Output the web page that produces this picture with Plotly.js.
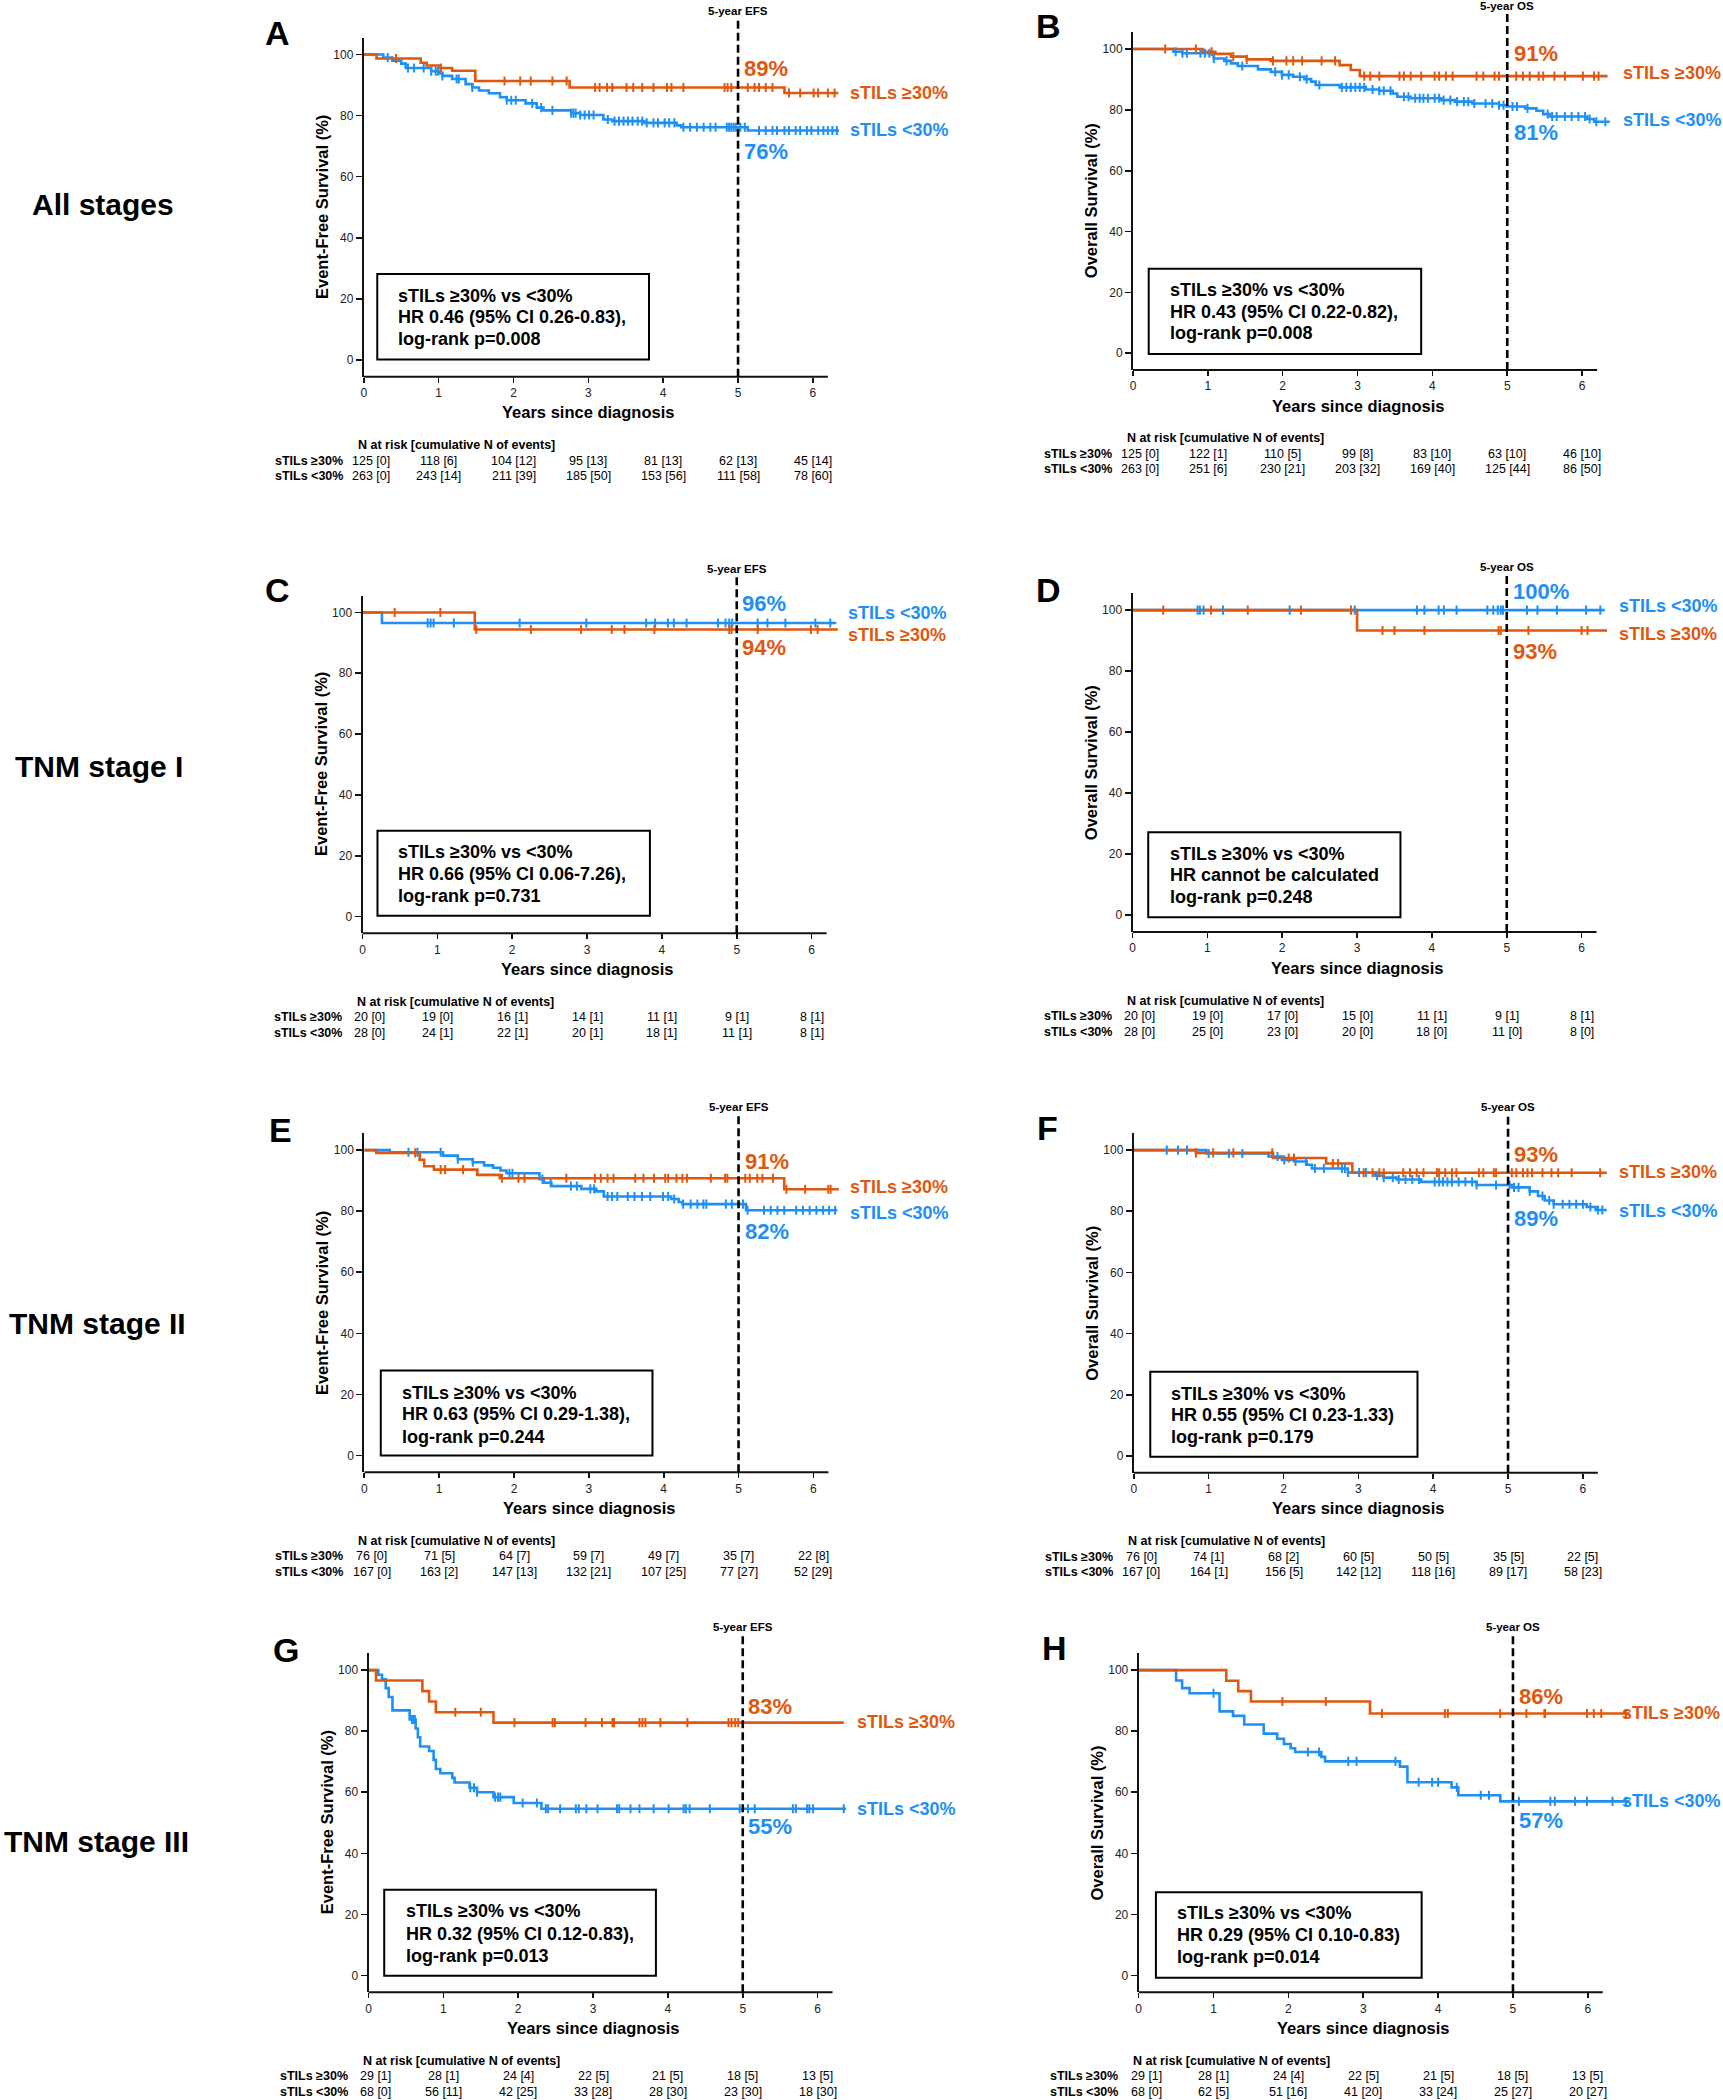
<!DOCTYPE html>
<html><head><meta charset="utf-8">
<script src="https://cdn.plot.ly/plotly-3.0.1.min.js"></script>
<style>body{margin:0;background:#fff}#chart{width:1723px;height:2100px}</style>
</head><body><div id="chart"></div>
<script>
// ---------------- DATA ----------------
// Panel A: EFS, all stages
const A_hi_time = [0, 0.17, 0.76, 0.84, 1.02, 1.18, 1.49, 2.75, 5.62, 6.34];
const A_hi_surv = [100, 98.7, 97.3, 96.4, 95.6, 94.7, 91.3, 89.2, 87.4, 87.4];
const A_hi_cens = [0.43, 1.03, 1.88, 2.09, 2.23, 2.52, 2.71, 3.09, 3.15, 3.25, 3.32, 3.51, 3.6, 3.72, 3.87, 4.05, 4.11, 4.27, 4.82, 4.86, 4.91, 5.13, 5.22, 5.28, 5.37, 5.46, 5.68, 5.83, 6.01, 6.07, 6.2, 6.29];
const A_lo_time = [0, 0.26, 0.38, 0.5, 0.56, 0.9, 1.0, 1.05, 1.18, 1.36, 1.45, 1.54, 1.67, 1.82, 1.91, 2.16, 2.31, 2.4, 2.77, 2.89, 3.2, 3.32, 3.75, 4.18, 4.24, 5.13, 6.35];
const A_lo_surv = [100, 99, 98, 97, 95.6, 94.5, 93.8, 93, 92, 90.3, 89.2, 88.2, 87.3, 86, 85, 84, 82.6, 81.7, 80.8, 80.2, 78.7, 78.2, 77.6, 76.8, 76.2, 75.1, 75.1];
const A_lo_cens = [0.32, 0.59, 0.67, 0.8, 0.9, 0.96, 0.99, 1.05, 1.24, 1.27, 1.45, 1.91, 1.97, 2.03, 2.25, 2.37, 2.52, 2.77, 2.8, 2.83, 2.89, 2.95, 3.01, 3.07, 3.26, 3.35, 3.41, 3.47, 3.53, 3.59, 3.66, 3.72, 3.78, 3.87, 3.93, 4.02, 4.08, 4.15, 4.27, 4.36, 4.45, 4.54, 4.63, 4.7, 4.85, 4.88, 4.91, 4.94, 4.97, 5.03, 5.09, 5.28, 5.37, 5.46, 5.52, 5.62, 5.68, 5.77, 5.83, 5.92, 5.98, 6.07, 6.14, 6.2, 6.26, 6.32];
const A_risk_hi = ["125 [0]", "118 [6]", "104 [12]", "95 [13]", "81 [13]", "62 [13]", "45 [14]"];
const A_risk_lo = ["263 [0]", "243 [14]", "211 [39]", "185 [50]", "153 [56]", "111 [58]", "78 [60]"];
const A_stats = ["sTILs ≥30% vs &lt;30%", "HR 0.46 (95% CI 0.26-0.83),", "log-rank p=0.008"];
const A_pct = ["89%", "76%"];

// Panel B: OS, all stages
const B_hi_time = [0, 0.93, 1.1, 1.31, 1.52, 1.84, 2.76, 2.91, 3.03, 6.34];
const B_hi_surv = [100, 99.1, 98.4, 97.5, 96.6, 96.1, 94.7, 93.1, 91.1, 91.1];
const B_hi_cens = [0.43, 0.84, 1.05, 1.34, 1.52, 1.87, 2.05, 2.14, 2.26, 2.52, 2.7, 3.09, 3.17, 3.29, 3.56, 3.62, 3.71, 3.85, 4.03, 4.09, 4.18, 4.27, 4.59, 4.68, 4.83, 4.89, 5.12, 5.21, 5.3, 5.42, 5.48, 5.63, 5.77, 6.01, 6.16, 6.22];
const B_lo_time = [0, 0.54, 0.66, 1.08, 1.22, 1.31, 1.4, 1.67, 1.84, 1.99, 2.14, 2.29, 2.38, 2.44, 2.76, 3.11, 3.29, 3.47, 3.53, 3.71, 4.12, 4.3, 4.53, 4.89, 4.99, 5.24, 5.39, 5.48, 5.57, 6.07, 6.16, 6.37];
const B_lo_surv = [100, 99.1, 98.6, 96.9, 96.1, 95.3, 94.4, 93.3, 92.5, 91.5, 90.9, 90.1, 89.3, 88.2, 87.4, 86.7, 86.3, 85.4, 84.3, 83.8, 83.2, 82.7, 82.1, 81.5, 81.1, 80.5, 79.7, 78.6, 77.8, 77, 76.1, 76.1];
const B_lo_cens = [0.57, 0.66, 0.72, 0.9, 0.96, 1.02, 1.08, 1.25, 1.46, 1.9, 1.99, 2.08, 2.23, 2.32, 2.49, 2.79, 2.85, 2.91, 2.97, 3.03, 3.09, 3.2, 3.29, 3.35, 3.44, 3.62, 3.68, 3.77, 3.83, 3.88, 3.94, 4.03, 4.09, 4.15, 4.24, 4.33, 4.42, 4.48, 4.56, 4.71, 4.8, 4.89, 4.95, 5.07, 5.13, 5.27, 5.54, 5.6, 5.66, 5.77, 5.86, 5.95, 6.04, 6.1, 6.19, 6.31];
const B_risk_hi = ["125 [0]", "122 [1]", "110 [5]", "99 [8]", "83 [10]", "63 [10]", "46 [10]"];
const B_risk_lo = ["263 [0]", "251 [6]", "230 [21]", "203 [32]", "169 [40]", "125 [44]", "86 [50]"];
const B_stats = ["sTILs ≥30% vs &lt;30%", "HR 0.43 (95% CI 0.22-0.82),", "log-rank p=0.008"];
const B_pct = ["91%", "81%"];

// Panel C: EFS, stage I
const C_hi_time = [0, 1.5, 6.35];
const C_hi_surv = [100, 94.4, 94.4];
const C_hi_cens = [0.43, 1.04, 1.52, 2.25, 2.92, 3.33, 3.5, 3.9, 4.9, 4.93, 5.28, 5.99, 6.08];
const C_lo_time = [0, 0.26, 6.33];
const C_lo_surv = [100, 96.5, 96.5];
const C_lo_cens = [0.87, 0.91, 0.95, 1.22, 2.1, 2.99, 3.79, 3.91, 4.08, 4.16, 4.33, 4.75, 4.85, 4.9, 4.94, 5.28, 5.41, 5.65, 6.05, 6.25];
const C_risk_hi = ["20 [0]", "19 [0]", "16 [1]", "14 [1]", "11 [1]", "9 [1]", "8 [1]"];
const C_risk_lo = ["28 [0]", "24 [1]", "22 [1]", "20 [1]", "18 [1]", "11 [1]", "8 [1]"];
const C_stats = ["sTILs ≥30% vs &lt;30%", "HR 0.66 (95% CI 0.06-7.26),", "log-rank p=0.731"];
const C_pct = ["94%", "96%"];

// Panel D: OS, stage I
const D_hi_time = [0, 3.0, 6.34];
const D_hi_surv = [100, 93.3, 93.3];
const D_hi_cens = [0.41, 1.05, 1.54, 2.25, 2.92, 3.34, 3.5, 3.9, 4.89, 4.92, 5.29, 6.0, 6.08];
const D_lo_time = [0, 6.31];
const D_lo_surv = [100, 100];
const D_lo_cens = [0.87, 0.9, 0.95, 1.21, 2.1, 2.97, 3.8, 3.9, 4.09, 4.16, 4.33, 4.74, 4.82, 4.88, 4.92, 4.95, 5.27, 5.41, 5.67, 6.06, 6.25];
const D_risk_hi = ["20 [0]", "19 [0]", "17 [0]", "15 [0]", "11 [1]", "9 [1]", "8 [1]"];
const D_risk_lo = ["28 [0]", "25 [0]", "23 [0]", "20 [0]", "18 [0]", "11 [0]", "8 [0]"];
const D_stats = ["sTILs ≥30% vs &lt;30%", "HR cannot be calculated", "log-rank p=0.248"];
const D_pct = ["93%", "100%"];

// Panel E: EFS, stage II
const E_hi_time = [0, 0.16, 0.74, 0.8, 0.93, 1.51, 1.81, 5.61, 6.34];
const E_hi_surv = [100, 99.1, 96.8, 94.7, 93.6, 91.9, 90.8, 87.2, 87.2];
const E_hi_cens = [0.68, 1.02, 1.08, 1.32, 1.84, 2.06, 2.14, 2.7, 3.08, 3.16, 3.25, 3.33, 3.62, 3.73, 3.87, 4.02, 4.06, 4.17, 4.25, 4.31, 4.63, 4.82, 4.85, 5.09, 5.15, 5.25, 5.32, 5.46, 5.64, 5.89, 6.2, 6.23];
const E_lo_time = [0, 0.34, 1.05, 1.25, 1.45, 1.6, 1.72, 1.82, 1.9, 2.34, 2.4, 2.5, 2.9, 3.1, 3.2, 4.1, 4.2, 4.25, 5.1, 6.32];
const E_lo_surv = [100, 99.3, 98.2, 97, 96, 95, 94.2, 93.3, 92.4, 90.5, 89.3, 88.2, 87.3, 86.5, 84.8, 84, 83, 82.3, 80.3, 80.3];
const E_lo_cens = [0.59, 0.71, 1.02, 1.25, 1.45, 1.94, 1.98, 2.38, 2.49, 2.76, 2.84, 3.02, 3.07, 3.25, 3.31, 3.38, 3.52, 3.61, 3.71, 3.82, 3.99, 4.06, 4.14, 4.26, 4.36, 4.45, 4.53, 4.57, 4.83, 4.91, 5.06, 5.12, 5.34, 5.43, 5.52, 5.61, 5.77, 5.86, 5.95, 6.04, 6.13, 6.21, 6.29];
const E_risk_hi = ["76 [0]", "71 [5]", "64 [7]", "59 [7]", "49 [7]", "35 [7]", "22 [8]"];
const E_risk_lo = ["167 [0]", "163 [2]", "147 [13]", "132 [21]", "107 [25]", "77 [27]", "52 [29]"];
const E_stats = ["sTILs ≥30% vs &lt;30%", "HR 0.63 (95% CI 0.29-1.38),", "log-rank p=0.244"];
const E_pct = ["91%", "82%"];

// Panel F: OS, stage II
const F_hi_time = [0, 0.83, 1.86, 2.57, 2.92, 6.32];
const F_hi_surv = [100, 99.1, 97.4, 95.6, 92.6, 92.6];
const F_hi_cens = [0.83, 1.06, 1.33, 1.85, 2.07, 2.14, 2.66, 2.73, 3.07, 3.19, 3.28, 3.34, 3.6, 3.69, 3.78, 3.87, 4.05, 4.08, 4.16, 4.25, 4.31, 4.61, 4.67, 4.81, 4.84, 5.05, 5.11, 5.2, 5.26, 5.32, 5.46, 5.58, 5.67, 5.85, 6.23];
const F_lo_time = [0, 0.97, 1.8, 1.98, 2.16, 2.31, 2.38, 2.86, 3.22, 3.34, 3.51, 3.84, 4.58, 5.05, 5.29, 5.4, 5.49, 5.61, 6.05, 6.17, 6.32];
const F_lo_surv = [100, 98.9, 97.9, 96.8, 96.3, 95.2, 94, 92.7, 91.6, 91, 90.4, 89.6, 88.6, 87.8, 86.5, 85, 83.5, 82.3, 81.4, 80.4, 80.4];
const F_lo_cens = [0.44, 0.59, 0.71, 1.0, 1.27, 1.45, 1.92, 2.01, 2.16, 2.3, 2.42, 2.54, 2.78, 2.82, 2.86, 3.01, 3.1, 3.25, 3.34, 3.46, 3.54, 3.63, 3.72, 3.81, 4.02, 4.08, 4.13, 4.19, 4.25, 4.34, 4.43, 4.52, 4.58, 4.84, 5.02, 5.08, 5.14, 5.29, 5.46, 5.55, 5.61, 5.73, 5.82, 5.91, 6.0, 6.1, 6.2, 6.26];
const F_risk_hi = ["76 [0]", "74 [1]", "68 [2]", "60 [5]", "50 [5]", "35 [5]", "22 [5]"];
const F_risk_lo = ["167 [0]", "164 [1]", "156 [5]", "142 [12]", "118 [16]", "89 [17]", "58 [23]"];
const F_stats = ["sTILs ≥30% vs &lt;30%", "HR 0.55 (95% CI 0.23-1.33)", "log-rank p=0.179"];
const F_pct = ["93%", "89%"];

// Panel G: EFS, stage III
const G_hi_time = [0, 0.1, 0.72, 0.81, 0.9, 1.67, 6.35];
const G_hi_surv = [100, 96.6, 93.1, 89.7, 86.2, 82.8, 82.8];
const G_hi_cens = [1.16, 1.5, 1.95, 2.46, 2.49, 2.9, 3.12, 3.26, 3.28, 3.62, 3.66, 3.7, 3.9, 4.26, 4.81, 4.85, 4.9, 4.94];
const G_lo_time = [0, 0.13, 0.18, 0.23, 0.27, 0.32, 0.55, 0.63, 0.66, 0.69, 0.81, 0.87, 0.9, 0.96, 1.12, 1.15, 1.35, 1.45, 1.67, 1.94, 2.31, 6.38];
const G_lo_surv = [100, 98.5, 97, 94.1, 91.2, 86.8, 83.8, 80.9, 78.0, 75.0, 73.5, 70.6, 67.6, 66.2, 64.7, 63.2, 61.5, 60, 58.4, 56.5, 54.6, 54.6];
const G_lo_cens = [0.58, 0.6, 0.62, 1.36, 1.41, 1.45, 1.69, 1.73, 1.76, 2.06, 2.25, 2.37, 2.4, 2.56, 2.77, 2.81, 2.91, 3.06, 3.32, 3.35, 3.5, 3.62, 3.81, 4.01, 4.21, 4.24, 4.29, 4.56, 4.96, 5.07, 5.16, 5.67, 5.71, 5.86, 5.89, 5.94, 6.35];
const G_risk_hi = ["29 [1]", "28 [1]", "24 [4]", "22 [5]", "21 [5]", "18 [5]", "13 [5]"];
const G_risk_lo = ["68 [0]", "56 [11]", "42 [25]", "33 [28]", "28 [30]", "23 [30]", "18 [30]"];
const G_stats = ["sTILs ≥30% vs &lt;30%", "HR 0.32 (95% CI 0.12-0.83),", "log-rank p=0.013"];
const G_pct = ["83%", "55%"];

// Panel H: OS, stage III
const H_hi_time = [0, 1.17, 1.33, 1.5, 3.09, 6.56];
const H_hi_surv = [100, 96.5, 93.1, 89.7, 85.8, 85.8];
const H_hi_cens = [1.92, 2.5, 3.25, 4.09, 4.13, 4.83, 5.18, 5.42, 5.43, 5.99, 6.08, 6.18, 6.51];
const H_lo_time = [0, 0.5, 0.58, 0.68, 1.08, 1.26, 1.41, 1.67, 1.85, 1.94, 2.03, 2.09, 2.44, 2.49, 3.49, 3.59, 4.18, 4.27, 4.83, 6.56];
const H_lo_surv = [100, 96.6, 94.1, 92.4, 86.5, 85, 82.2, 79.2, 77.5, 75.8, 74.4, 73.2, 71.6, 70.1, 68.4, 63.3, 61.6, 59, 57, 57];
const H_lo_cens = [1.0, 2.26, 2.41, 2.8, 2.91, 3.43, 3.74, 3.92, 4.0, 4.25, 4.57, 4.68, 5.08, 5.5, 5.56, 5.83, 5.99, 6.33, 6.51];
const H_risk_hi = ["29 [1]", "28 [1]", "24 [4]", "22 [5]", "21 [5]", "18 [5]", "13 [5]"];
const H_risk_lo = ["68 [0]", "62 [5]", "51 [16]", "41 [20]", "33 [24]", "25 [27]", "20 [27]"];
const H_stats = ["sTILs ≥30% vs &lt;30%", "HR 0.29 (95% CI 0.10-0.83)", "log-rank p=0.014"];
const H_pct = ["86%", "57%"];

const yearTicks = [0, 1, 2, 3, 4, 5, 6];
const survTicks = [0, 20, 40, 60, 80, 100];
const groupLabels = ["sTILs ≥30%", "sTILs &lt;30%"];
const stageLabels = ["All stages", "TNM stage I", "TNM stage II", "TNM stage III"];
const riskHeader = "N at risk [cumulative N of events]";

// ---------------- LAYOUT / STYLE ----------------
const W = 1723, H = 2100;
const ORANGE = '#E0580E', BLUE = '#1E90F5';
const FONT = "'Liberation Sans', Arial, Helvetica, sans-serif";
const PPY = 74.85, XMAX = 6.6, YMIN = -5.5, YMAX = 105.5;

const series = {
  A: {hiT: A_hi_time, hiS: A_hi_surv, hiC: A_hi_cens, loT: A_lo_time, loS: A_lo_surv, loC: A_lo_cens, rh: A_risk_hi, rl: A_risk_lo, st: A_stats, pct: A_pct},
  B: {hiT: B_hi_time, hiS: B_hi_surv, hiC: B_hi_cens, loT: B_lo_time, loS: B_lo_surv, loC: B_lo_cens, rh: B_risk_hi, rl: B_risk_lo, st: B_stats, pct: B_pct},
  C: {hiT: C_hi_time, hiS: C_hi_surv, hiC: C_hi_cens, loT: C_lo_time, loS: C_lo_surv, loC: C_lo_cens, rh: C_risk_hi, rl: C_risk_lo, st: C_stats, pct: C_pct},
  D: {hiT: D_hi_time, hiS: D_hi_surv, hiC: D_hi_cens, loT: D_lo_time, loS: D_lo_surv, loC: D_lo_cens, rh: D_risk_hi, rl: D_risk_lo, st: D_stats, pct: D_pct},
  E: {hiT: E_hi_time, hiS: E_hi_surv, hiC: E_hi_cens, loT: E_lo_time, loS: E_lo_surv, loC: E_lo_cens, rh: E_risk_hi, rl: E_risk_lo, st: E_stats, pct: E_pct},
  F: {hiT: F_hi_time, hiS: F_hi_surv, hiC: F_hi_cens, loT: F_lo_time, loS: F_lo_surv, loC: F_lo_cens, rh: F_risk_hi, rl: F_risk_lo, st: F_stats, pct: F_pct},
  G: {hiT: G_hi_time, hiS: G_hi_surv, hiC: G_hi_cens, loT: G_lo_time, loS: G_lo_surv, loC: G_lo_cens, rh: G_risk_hi, rl: G_risk_lo, st: G_stats, pct: G_pct},
  H: {hiT: H_hi_time, hiS: H_hi_surv, hiC: H_hi_cens, loT: H_lo_time, loS: H_lo_surv, loC: H_lo_cens, rh: H_risk_hi, rl: H_risk_lo, st: H_stats, pct: H_pct}
};

// placement (pixels / data positions)
const geo = {
  A: {x0: 363.8, top: 37.7, bot: 376.7, letter: [277.5, 33], os: false, pctX: 5.05, pctHi: 95.4, pctLo: 68.1, labX: 6.47, labHi: 87.4, labLo: 75.2, box: [0.18, 3.81, 0.1, 28.1], tx: 0.43, ty: [21, 13.9, 6.7]},
  B: {x0: 1133.0, top: 32.3, bot: 370.0, letter: [1048.6, 26], os: true, pctX: 5.06, pctHi: 98.6, pctLo: 72.5, labX: 6.52, labHi: 92.2, labLo: 76.7, box: [0.21, 3.85, -0.2, 27.8], tx: 0.47, ty: [20.8, 13.5, 6.6]},
  C: {x0: 362.5, top: 595.7, bot: 933.3, letter: [277.5, 590], os: false, pctX: 5.04, pctHi: 88.4, pctLo: 103.1, labX: 6.46, labHi: 92.5, labLo: 99.9, box: [0.2, 3.84, 0.3, 28.2], tx: 0.45, ty: [21.2, 14.1, 6.7]},
  D: {x0: 1132.5, top: 593.3, bot: 932.0, letter: [1048.6, 590], os: true, pctX: 5.06, pctHi: 86.5, pctLo: 101.2, pctLoBottom: true, labX: 6.47, labHi: 92.2, labLo: 101.4, box: [0.21, 3.58, -0.7, 27.2], tx: 0.47, ty: [20.2, 13.1, 5.9]},
  E: {x0: 364.3, top: 1133.3, bot: 1472.3, letter: [280, 1130], os: false, pctX: 5.06, pctHi: 96.3, pctLo: 73.4, labX: 6.46, labHi: 87.9, labLo: 79.4, box: [0.22, 3.85, 0, 27.8], tx: 0.48, ty: [20.6, 13.6, 6.2]},
  F: {x0: 1133.8, top: 1133.3, bot: 1472.7, letter: [1047.7, 1128], os: true, pctX: 5.05, pctHi: 98.5, pctLo: 77.7, labX: 6.46, labHi: 92.7, labLo: 80.2, box: [0.22, 3.79, -0.3, 27.5], tx: 0.47, ty: [20.4, 13.3, 6.2]},
  G: {x0: 368.5, top: 1653.3, bot: 1992.3, letter: [285.8, 1650], os: false, pctX: 5.05, pctHi: 88.1, pctLo: 48.8, labX: 6.5, labHi: 83.0, labLo: 54.4, box: [0.21, 3.84, -0.1, 28.1], tx: 0.47, ty: [21, 13.6, 6.4]},
  H: {x0: 1138.7, top: 1653.3, bot: 1992.3, letter: [1054.3, 1648], os: true, pctX: 5.05, pctHi: 91.2, pctLo: 50.9, labX: 6.43, labHi: 86.1, labLo: 57.3, box: [0.23, 3.78, -0.7, 27.3], tx: 0.48, ty: [20.4, 13.3, 6.0]}
};
const stagePos = [[103.3, 205], [99, 766], [97.5, 1323], [96, 1841]];

const px = v => v / W;
const py = v => 1 - v / H;

function survAt(t, s, x) {
  let v = s[0];
  for (let i = 0; i < t.length; i++) { if (t[i] <= x) v = s[i]; else break; }
  return v;
}

const data = [];
const layout = {
  width: W, height: H,
  margin: {l: 0, r: 0, t: 0, b: 0},
  paper_bgcolor: '#fff', plot_bgcolor: 'rgba(0,0,0,0)',
  showlegend: false,
  font: {family: FONT, color: '#000'},
  annotations: [], shapes: []
};

const ids = ['A', 'B', 'C', 'D', 'E', 'F', 'G', 'H'];
ids.forEach((id, k) => {
  const n = k + 1;
  const xa = n === 1 ? 'x' : 'x' + n;
  const ya = n === 1 ? 'y' : 'y' + n;
  const xKey = n === 1 ? 'xaxis' : 'xaxis' + n;
  const yKey = n === 1 ? 'yaxis' : 'yaxis' + n;
  const s = series[id], g = geo[id];

  layout[xKey] = {
    domain: [px(g.x0), px(g.x0 + XMAX * PPY)], anchor: ya, range: [0, XMAX],
    showline: false, showgrid: false, zeroline: false,
    ticks: 'outside', ticklen: 5, tickwidth: 1.6, tickcolor: '#111',
    tickvals: yearTicks, ticktext: yearTicks.map(String),
    tickfont: {family: FONT, size: 12, color: '#222'}, fixedrange: true
  };
  layout[yKey] = {
    domain: [py(g.bot), py(g.top)], anchor: xa, range: [YMIN, YMAX],
    showline: true, linewidth: 2, linecolor: '#111', showgrid: false, zeroline: false,
    ticks: 'outside', ticklen: 6, tickwidth: 1.6, tickcolor: '#111',
    tickvals: survTicks, ticktext: survTicks.map(String),
    tickfont: {family: FONT, size: 12, color: '#222'}, fixedrange: true
  };

  // curves
  const lineTrace = (t, sv, color) => ({
    type: 'scatter', mode: 'lines', x: t, y: sv, xaxis: xa, yaxis: ya,
    line: {color: color, width: 2.6, shape: 'hv'}, hoverinfo: 'skip'
  });
  const censTrace = (t, sv, c, color) => ({
    type: 'scatter', mode: 'markers', x: c, y: c.map(v => survAt(t, sv, v)), xaxis: xa, yaxis: ya,
    marker: {symbol: 'line-ns-open', size: 6.5, color: color, line: {color: color, width: 2}}, hoverinfo: 'skip'
  });
  data.push(lineTrace(s.loT, s.loS, BLUE));
  data.push(lineTrace(s.hiT, s.hiS, ORANGE));
  data.push(censTrace(s.loT, s.loS, s.loC, BLUE));
  data.push(censTrace(s.hiT, s.hiS, s.hiC, ORANGE));

  // x axis line
  layout.shapes.push({type: 'line', xref: xa, yref: 'paper', x0: 0, x1: 6.2, y0: py(g.bot), y1: py(g.bot), line: {color: '#111', width: 2}});
  // 5-year dashed line
  layout.shapes.push({type: 'line', xref: xa, yref: 'paper', x0: 5, x1: 5, y0: py(g.bot), y1: py(g.top - 19.4), line: {color: '#000', width: 2.6, dash: '8px,4px'}});
  // stats box
  layout.shapes.push({type: 'rect', xref: xa, yref: ya, x0: g.box[0], x1: g.box[1], y0: g.box[2], y1: g.box[3], line: {color: '#000', width: 2}, fillcolor: 'rgba(0,0,0,0)'});

  const A = layout.annotations;
  const bold = (size, color) => ({family: FONT, size: size, color: color || '#000', weight: 'bold'});
  // 5-year label
  A.push({xref: xa, yref: 'paper', x: 5, y: py(g.top - 26.7), text: g.os ? '<b>5-year OS</b>' : '<b>5-year EFS</b>', showarrow: false, font: bold(11.5), xanchor: 'center', yanchor: 'middle'});
  // panel letter
  A.push({xref: 'paper', yref: 'paper', x: px(g.letter[0]), y: py(g.letter[1]), text: '<b>' + id + '</b>', showarrow: false, font: bold(34), xanchor: 'center', yanchor: 'middle'});
  // axis titles
  A.push({xref: xa, yref: 'paper', x: 3.0, y: py(g.bot + 35.6), text: '<b>Years since diagnosis</b>', showarrow: false, font: bold(16.5), xanchor: 'center', yanchor: 'middle'});
  A.push({xref: 'paper', yref: ya, x: px(g.x0 - 42), y: 50, text: g.os ? '<b>Overall Survival (%)</b>' : '<b>Event-Free Survival (%)</b>', textangle: -90, showarrow: false, font: bold(16.5), xanchor: 'center', yanchor: 'middle'});
  // 5-year percentages
  A.push({xref: xa, yref: ya, x: g.pctX, y: g.pctHi, text: '<b>' + s.pct[0] + '</b>', showarrow: false, font: bold(22, ORANGE), xanchor: 'left', yanchor: 'middle'});
  A.push({xref: xa, yref: ya, x: g.pctX, y: g.pctLo, text: '<b>' + s.pct[1] + '</b>', showarrow: false, font: bold(22, BLUE), xanchor: 'left', yanchor: g.pctLoBottom ? 'bottom' : 'middle'});
  // curve labels
  A.push({xref: xa, yref: ya, x: g.labX, y: g.labHi, text: '<b>' + groupLabels[0] + '</b>', showarrow: false, font: bold(18, ORANGE), xanchor: 'left', yanchor: 'middle'});
  A.push({xref: xa, yref: ya, x: g.labX, y: g.labLo, text: '<b>' + groupLabels[1] + '</b>', showarrow: false, font: bold(18, BLUE), xanchor: 'left', yanchor: 'middle'});
  // stats text
  s.st.forEach((line, i) => {
    A.push({xref: xa, yref: ya, x: g.tx, y: g.ty[i], text: '<b>' + line + '</b>', showarrow: false, font: bold(18), xanchor: 'left', yanchor: 'middle'});
  });
  // risk table
  A.push({xref: 'paper', yref: 'paper', x: px(g.x0 - 8), y: py(g.bot + 68.5), text: '<b>' + riskHeader + '</b>', showarrow: false, font: bold(12.5), xanchor: 'left', yanchor: 'middle'});
  A.push({xref: 'paper', yref: 'paper', x: px(g.x0 - 91), y: py(g.bot + 84), text: '<b>' + groupLabels[0] + '</b>', showarrow: false, font: bold(12.5), xanchor: 'left', yanchor: 'middle'});
  A.push({xref: 'paper', yref: 'paper', x: px(g.x0 - 91), y: py(g.bot + 99.5), text: '<b>' + groupLabels[1] + '</b>', showarrow: false, font: bold(12.5), xanchor: 'left', yanchor: 'middle'});
  yearTicks.forEach((yr, i) => {
    const xx = i === 0 ? 0.1 : yr;
    A.push({xref: xa, yref: 'paper', x: xx, y: py(g.bot + 84), text: s.rh[i], showarrow: false, font: {family: FONT, size: 12.5, color: '#000'}, xanchor: 'center', yanchor: 'middle'});
    A.push({xref: xa, yref: 'paper', x: xx, y: py(g.bot + 99.5), text: s.rl[i], showarrow: false, font: {family: FONT, size: 12.5, color: '#000'}, xanchor: 'center', yanchor: 'middle'});
  });
});

stageLabels.forEach((t, i) => {
  layout.annotations.push({xref: 'paper', yref: 'paper', x: px(stagePos[i][0]), y: py(stagePos[i][1]), text: '<b>' + t + '</b>', showarrow: false, font: {family: FONT, size: 30, color: '#000', weight: 'bold'}, xanchor: 'center', yanchor: 'middle'});
});

Plotly.newPlot('chart', data, layout, {displayModeBar: false, staticPlot: true});
</script>
</body></html>
